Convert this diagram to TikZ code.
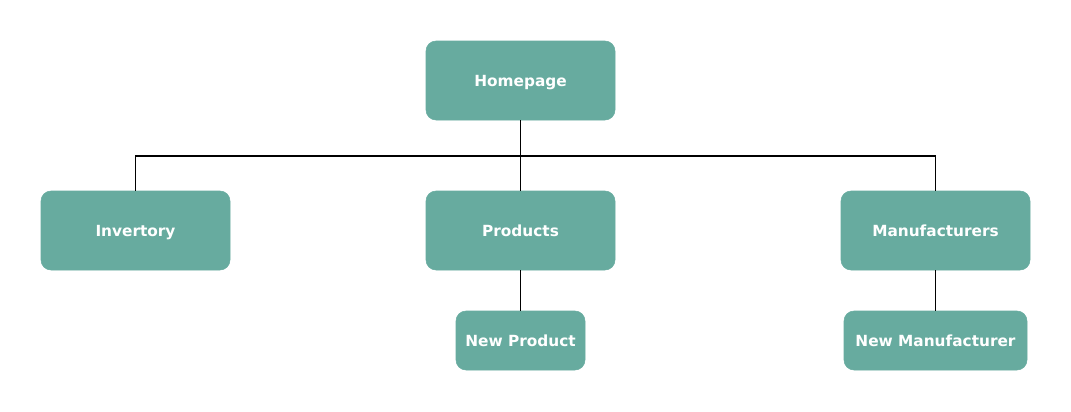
\documentclass[tikz,border=0pt]{standalone}
\usepackage{fontspec}
\setmainfont{DejaVu Sans}
\usetikzlibrary{positioning}
\definecolor{teal}{HTML}{67AB9F}

\begin{document}
\begin{tikzpicture}[x=0.75pt,y=-0.75pt, every node/.style={draw=teal,fill=teal,rounded corners=7.5pt,align=center,text=white,font=\fontsize{11.5}{14}\selectfont\bfseries,inner sep=0pt,text height=11pt,text depth=2.5pt},
  bigbox/.style={minimum width=141.75pt,minimum height=59.25pt},
  smallbox/.style={minimum height=44.25pt},
  link/.style={draw=black,line width=1.4pt}]
\useasboundingbox (0,0) rectangle (1071,411);
\node[bigbox] (home) at (520.5,80.5) {Homepage};
\node[bigbox] (inv) at (135.5,230.5) {Invertory};
\node[bigbox] (prod) at (520.5,230.5) {Products};
\node[bigbox] (manu) at (935.5,230.5) {Manufacturers};
\node[smallbox,minimum width=96.75pt] (newprod) at (520.5,340.5) {New Product};
\node[smallbox,minimum width=137.25pt] (newmanu) at (935.5,340.5) {New Manufacturer};
\coordinate (bus) at (520.5,156);
\draw[link] (home)--(prod);\draw[link] (inv.north) |- (bus) -| (manu.north);
\draw[link] (prod)--(newprod);\draw[link] (manu)--(newmanu);
\end{tikzpicture}
\end{document}
